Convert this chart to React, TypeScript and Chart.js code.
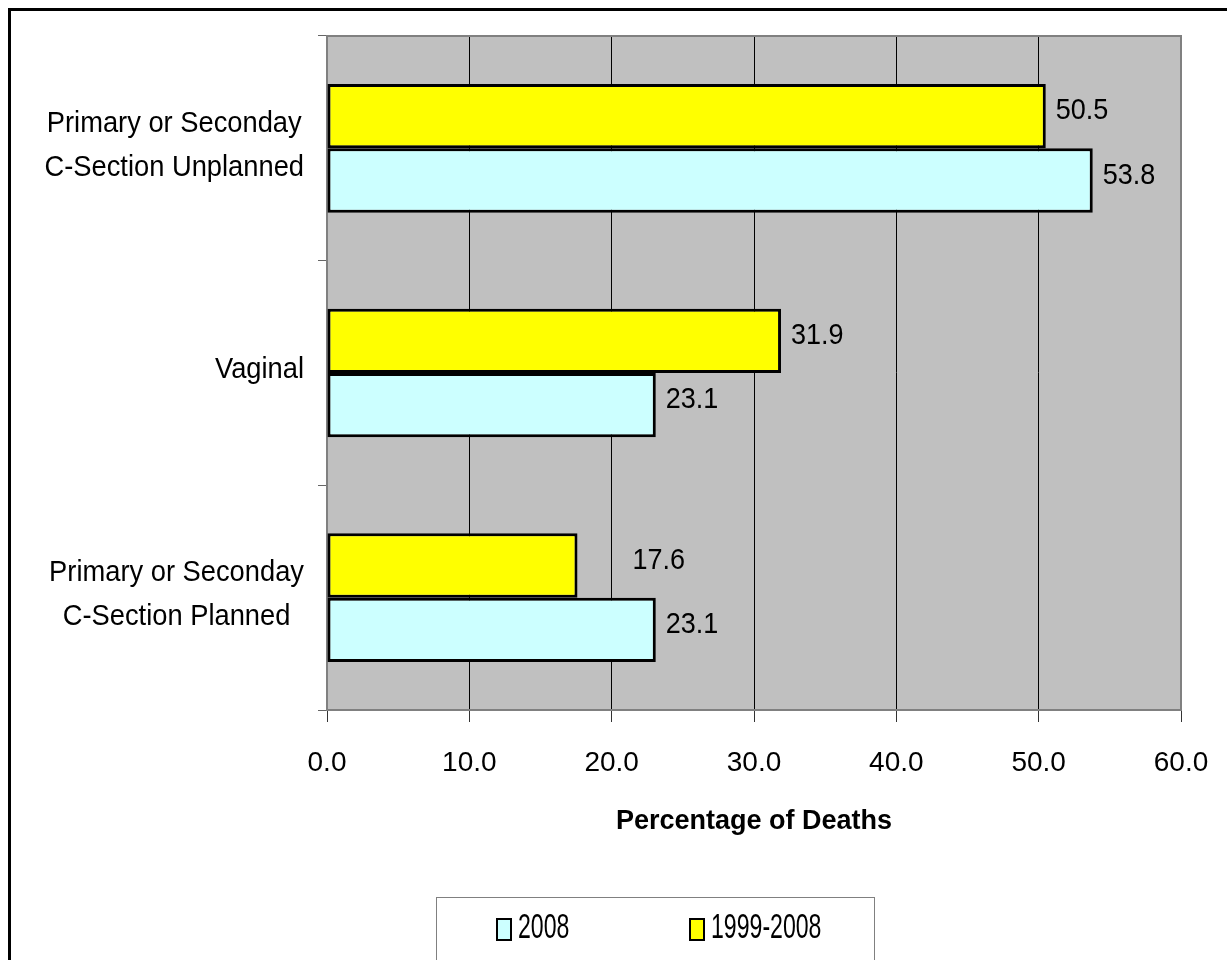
import React, { useEffect, useRef } from 'react';
import { Chart, registerables } from 'chart.js';

Chart.register(...registerables);

// ---- data ----
const categories: string[][] = [
  ['Primary or Seconday', 'C-Section Unplanned'],
  ['Vaginal'],
  ['Primary or Seconday', 'C-Section Planned'],
];
const seriesAllYears = '1999-2008';
const series2008 = '2008';
const valuesAllYears = [50.5, 31.9, 17.6];
const values2008 = [53.8, 23.1, 23.1];
const xMin = 0;
const xMax = 60;
const xStep = 10;
const xTitle = 'Percentage of Deaths';
const legendItems = [series2008, seriesAllYears];

// ---- styles ----
const FONT = '"Liberation Sans", Arial, Helvetica, sans-serif';
const YELLOW = '#FFFF00';
const CYAN = '#CCFFFF';
const PLOT_BG = '#C0C0C0';
const PLOT_EDGE = '#808080';
const labelShift: Record<string, number> = { '0-2': 55 };

function drawText(
  ctx: CanvasRenderingContext2D,
  text: string,
  x: number,
  y: number,
  size: number,
  sx: number,
  align: 'left' | 'center' | 'right',
  baseline: CanvasTextBaseline = 'middle',
  weight = 'normal'
) {
  ctx.save();
  ctx.font = `${weight} ${size}px ${FONT}`;
  ctx.textBaseline = baseline;
  ctx.textAlign = 'left';
  const w = ctx.measureText(text).width * sx;
  let left = x;
  if (align === 'center') left = x - w / 2;
  else if (align === 'right') left = x - w;
  ctx.translate(left, y);
  ctx.scale(sx, 1);
  ctx.fillStyle = '#000';
  ctx.fillText(text, 0, 0);
  ctx.restore();
}

function measure(ctx: CanvasRenderingContext2D, text: string, size: number, sx: number) {
  ctx.save();
  ctx.font = `normal ${size}px ${FONT}`;
  const w = ctx.measureText(text).width * sx;
  ctx.restore();
  return w;
}

const decorPlugin = {
  id: 'decor',
  beforeDraw(chart: any) {
    const { ctx, chartArea } = chart;
    ctx.save();
    ctx.fillStyle = '#fff';
    ctx.fillRect(0, 0, chart.width, chart.height);
    ctx.fillStyle = PLOT_BG;
    ctx.fillRect(chartArea.left, chartArea.top, chartArea.right - chartArea.left, chartArea.bottom - chartArea.top);
    // outer frame
    ctx.fillStyle = '#000';
    ctx.fillRect(8, 8, chart.width - 8, 3);
    ctx.fillRect(8, 8, 3, chart.height - 8);
    ctx.restore();
  },
  afterDatasetsDraw(chart: any) {
    const { ctx } = chart;
    chart.data.datasets.forEach((ds: any, di: number) => {
      const meta = chart.getDatasetMeta(di);
      meta.data.forEach((el: any, i: number) => {
        const v = ds.data[i] as number;
        const shift = labelShift[`${di}-${i}`] ?? 10;
        drawText(ctx, v.toFixed(1), el.x + shift, el.y - 5, 30, 0.9, 'left');
      });
    });
  },
  afterDraw(chart: any) {
    const { ctx, chartArea } = chart;
    // top/right edges of plot area
    ctx.save();
    ctx.strokeStyle = PLOT_EDGE;
    ctx.lineWidth = 2;
    ctx.beginPath();
    ctx.moveTo(chartArea.left, chartArea.top);
    ctx.lineTo(chartArea.right, chartArea.top);
    ctx.lineTo(chartArea.right, chartArea.bottom);
    ctx.stroke();
    ctx.restore();

    // category labels
    const yScale = chart.scales.y;
    categories.forEach((lines, i) => {
      const cy = yScale.getPixelForValue(i) - 3;
      const bw = Math.max(...lines.map((l) => measure(ctx, l, 30, 0.91)));
      const right = 304;
      const cx = right - bw / 2;
      lines.forEach((ln, j) => {
        drawText(ctx, ln, cx, cy + (j - (lines.length - 1) / 2) * 44, 30, 0.91, 'center');
      });
    });

    // legend box
    ctx.save();
    ctx.strokeStyle = PLOT_EDGE;
    ctx.lineWidth = 1;
    ctx.strokeRect(436.5, 897.5, 438, 120);
    const colors: Record<string, string> = { [series2008]: CYAN, [seriesAllYears]: YELLOW };
    const xs = [497, 690];
    legendItems.forEach((name, k) => {
      const x = xs[k];
      ctx.fillStyle = colors[name];
      ctx.fillRect(x, 919, 14, 21);
      ctx.strokeStyle = '#000';
      ctx.lineWidth = 2;
      ctx.strokeRect(x, 919, 14, 21);
      drawText(ctx, name, x + 21, 938, 35, 0.66, 'left', 'alphabetic');
    });
    ctx.restore();
  },
};

export default function App() {
  const ref = useRef<HTMLCanvasElement>(null);

  useEffect(() => {
    if (!ref.current) return;
    Chart.defaults.font.family = FONT;
    const chart = new Chart(ref.current, {
      type: 'bar',
      data: {
        labels: categories.map((c) => c.join(' ')),
        datasets: [
          {
            label: seriesAllYears,
            data: valuesAllYears,
            backgroundColor: YELLOW,
            borderColor: '#000',
            borderWidth: 3,
            borderSkipped: false,
            categoryPercentage: 0.573,
            barPercentage: 1,
          },
          {
            label: series2008,
            data: values2008,
            backgroundColor: CYAN,
            borderColor: '#000',
            borderWidth: 3,
            borderSkipped: false,
            categoryPercentage: 0.573,
            barPercentage: 1,
          },
        ],
      },
      options: {
        indexAxis: 'y',
        animation: false,
        responsive: false,
        devicePixelRatio: 1,
        layout: { padding: { left: 0, top: 36, right: 46, bottom: 110 } },
        plugins: {
          legend: { display: false },
          tooltip: { enabled: false },
        },
        scales: {
          x: {
            type: 'linear',
            min: xMin,
            max: xMax,
            afterFit: (scale: any) => {
              scale.height = 140;
              scale.paddingLeft = 0;
              scale.paddingRight = 0;
            },
            ticks: {
              stepSize: xStep,
              color: '#000',
              font: { size: 28, family: FONT },
              padding: 24,
              callback: (v: any) => Number(v).toFixed(1),
            },
            grid: {
              color: '#000',
              lineWidth: 1,
              tickLength: 12,
              tickColor: '#333',
            },
            border: { color: PLOT_EDGE, width: 2 },
            title: {
              display: true,
              text: xTitle,
              color: '#000',
              font: { size: 27, weight: 'bold', family: FONT },
              padding: { top: 0, bottom: 12 },
            },
          },
          y: {
            type: 'category',
            afterFit: (scale: any) => {
              scale.width = 327;
            },
            ticks: { display: false },
            grid: {
              offset: true,
              drawOnChartArea: false,
              color: '#666',
              tickLength: 9,
            },
            border: { color: PLOT_EDGE, width: 2 },
          },
        },
      },
      plugins: [decorPlugin],
    } as any);
    return () => chart.destroy();
  }, []);

  return (
    <div style={{ position: 'fixed', left: 0, top: 0, width: 1227, height: 960, background: '#fff', overflow: 'hidden' }}>
      <canvas ref={ref} width={1227} height={960} style={{ display: 'block', width: 1227, height: 960 }} />
    </div>
  );
}
